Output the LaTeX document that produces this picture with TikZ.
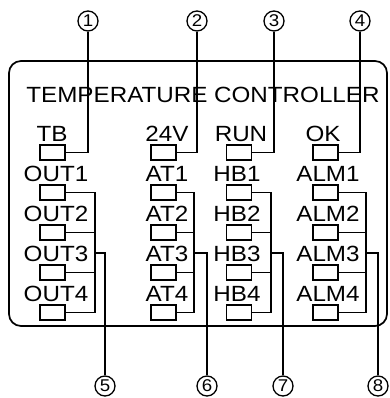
\documentclass[tikz,border=0pt]{standalone}
\usepackage{fontspec}
\setmainfont[FakeStretch=1.1]{Liberation Sans}
\begin{document}
\begin{tikzpicture}[x=1pt,y=-1pt,line width=1.5pt,
  term/.style={draw,minimum width=25pt,minimum height=15pt,inner sep=0pt},
  lab/.style={font=\fontsize{22}{22}\selectfont,inner sep=0pt},
  num/.style={draw,circle,minimum size=20pt,inner sep=0pt,line width=1.3pt,font=\fontsize{17}{17}\selectfont}]
\useasboundingbox (0,0) rectangle (389,398);
% frame
\node[draw,rounded corners=12pt,line width=1.7pt,minimum width=378pt,minimum height=265pt,inner sep=0pt] (frame) at (198,193.5) {};
\node[lab] (title) at (203,95) {TEMPERATURE CONTROLLER};
% terminals and labels
\foreach \c/\cx in {1/52.5,2/163.5,3/239,4/325.5}{
  \foreach \r in {0,...,4}{
    \node[term] (t\c\r) at (\cx,{152.5+40*\r}) {};
  }
}
\node[lab] (l10) at (52,134) {TB};
\node[lab] (l20) at (167,134) {24V};
\node[lab] (l30) at (241,134) {RUN};
\node[lab] (l40) at (323,134) {OK};
\foreach \r in {1,...,4}{
  \node[lab] (l1\r) at (56,{133.5+40*\r}) {OUT\r};
  \node[lab] (l2\r) at (167,{133.5+40*\r}) {AT\r};
  \node[lab] (l3\r) at (237,{133.5+40*\r}) {HB\r};
  \node[lab] (l4\r) at (328,{133.5+40*\r}) {ALM\r};
}
% circled numbers
\node[num] (c1) at (88,21) {1};
\node[num] (c2) at (197,21) {2};
\node[num] (c3) at (274,21) {3};
\node[num] (c4) at (360,21) {4};
\node[num] (c5) at (105,386) {5};
\node[num] (c6) at (207,386) {6};
\node[num] (c7) at (283,386) {7};
\node[num] (c8) at (378,386) {8};
% bus points
\coordinate (b1) at (95,253);
\coordinate (b2) at (194,253);
\coordinate (b3) at (271,253);
\coordinate (b4) at (366,253);
% top connections
\foreach \c in {1,...,4}{
  \draw (c\c) |- (t\c0);
}
% buses
\foreach \c/\o in {1/5,2/6,3/7,4/8}{
  \draw (t\c1) -| (b\c);
  \draw (t\c4) -| (b\c);
  \draw (t\c2) -- (t\c2 -| b\c);
  \draw (t\c3) -- (t\c3 -| b\c);
  \draw (b\c) -| (c\o);
}
\end{tikzpicture}
\end{document}
